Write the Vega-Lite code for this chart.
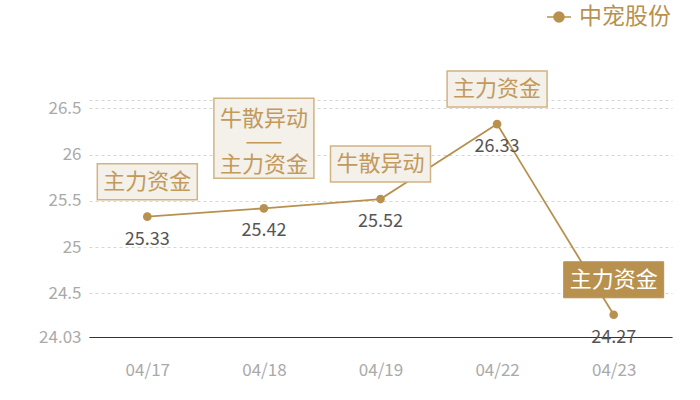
{
  "$schema": "https://vega.github.io/schema/vega-lite/v6.json",
  "width": 583,
  "height": 237,
  "autosize": {"type": "none"},
  "padding": {"left": 89, "top": 100, "right": 28, "bottom": 63},
  "background": "#ffffff",
  "config": {
    "font": "Noto Sans CJK SC",
    "view": {"stroke": null}
  },
  "data": {
    "values": [
      {"date": "04/17", "close": 25.33, "tag": "主力资金"},
      {"date": "04/18", "close": 25.42, "tag": "牛散异动\n——\n主力资金"},
      {"date": "04/19", "close": 25.52, "tag": "牛散异动"},
      {"date": "04/22", "close": 26.33, "tag": "主力资金"},
      {"date": "04/23", "close": 24.27, "tag": "主力资金"}
    ]
  },
  "encoding": {
    "x": {
      "field": "date", "type": "ordinal", "sort": null,
      "scale": {"type": "point", "padding": 0.5},
      "axis": {
        "title": null, "labelAngle": 0, "ticks": false, "grid": false,
        "domain": true, "domainColor": "#333333", "domainWidth": 1.2,
        "labelColor": "#aaaaaa", "labelFontSize": 17, "labelPadding": 25,
        "labelFont": "Noto Sans CJK SC"
      }
    },
    "y": {
      "field": "close", "type": "quantitative",
      "scale": {"domain": [24.03, 26.59], "nice": false, "zero": false},
      "axis": {
        "title": null, "values": [24.03, 24.5, 25, 25.5, 26, 26.5, 26.59],
        "labelExpr": "datum.value > 26.55 ? '' : format(datum.value, '.4~g')",
        "ticks": false, "domain": false,
        "grid": true, "gridColor": "#d6d6d6", "gridDash": [3, 3], "gridWidth": 1,
        "labelColor": "#aaaaaa", "labelFontSize": 17, "labelPadding": 8,
        "labelFont": "Noto Sans CJK SC"
      }
    }
  },
  "layer": [
    {
      "mark": {"type": "line", "strokeWidth": 1.8, "point": {"filled": true, "size": 75, "opacity": 1}},
      "encoding": {
        "color": {
          "datum": "中宠股份",
          "scale": {"range": ["#b8914f"]},
          "legend": {
            "title": null, "orient": "none", "legendX": 457, "legendY": -96,
            "symbolType": "M-1,0L1,0M-0.42,0A0.42,0.42,0,1,0,0.42,0A0.42,0.42,0,1,0,-0.42,0Z",
            "symbolSize": 576, "symbolStrokeWidth": 1.5,
            "symbolFillColor": "#b8914f", "symbolStrokeColor": "#b8914f",
            "labelFontSize": 23, "labelColor": "#b8914f", "labelFont": "Noto Sans CJK SC",
            "labelOffset": 7, "labelLimit": 200
          }
        }
      }
    },
    {
      "mark": {"type": "text", "dy": 23, "fontSize": 18, "color": "#555555", "baseline": "middle"},
      "encoding": {"text": {"field": "close", "type": "quantitative", "format": ".2f"}}
    },
    {
      "transform": [{"filter": "indexof(datum.tag, '\\n') < 0 && datum.date != '04/23'"}],
      "mark": {
        "type": "point", "shape": "M-1,-0.36L1,-0.36L1,0.36L-1,0.36Z", "size": 10000,
        "filled": true, "fill": "#f4f0ea", "stroke": "#d2b383", "strokeWidth": 1.5,
        "opacity": 1, "yOffset": -35
      }
    },
    {
      "transform": [{"filter": "indexof(datum.tag, '\\n') >= 0"}],
      "mark": {
        "type": "point", "shape": "M-1,-0.8L1,-0.8L1,0.8L-1,0.8Z", "size": 10000,
        "filled": true, "fill": "#f4f0ea", "stroke": "#d2b383", "strokeWidth": 1.5,
        "opacity": 1, "yOffset": -70
      }
    },
    {
      "transform": [{"filter": "datum.date == '04/23'"}],
      "mark": {
        "type": "point", "shape": "M-1,-0.36L1,-0.36L1,0.36L-1,0.36Z", "size": 10000,
        "filled": true, "fill": "#b8914f", "stroke": "#b8914f", "strokeWidth": 1,
        "opacity": 1, "yOffset": -35
      }
    },
    {
      "transform": [{"filter": "indexof(datum.tag, '\\n') < 0 && datum.date != '04/23'"}],
      "mark": {"type": "text", "fontSize": 22, "color": "#c29a5b", "baseline": "middle", "yOffset": -35},
      "encoding": {"text": {"field": "tag"}}
    },
    {
      "transform": [{"filter": "indexof(datum.tag, '\\n') >= 0"}],
      "mark": {"type": "text", "fontSize": 22, "color": "#c29a5b", "baseline": "middle", "yOffset": -89, "lineBreak": "\n", "lineHeight": 23},
      "encoding": {"text": {"field": "tag"}}
    },
    {
      "transform": [{"filter": "datum.date == '04/23'"}],
      "mark": {"type": "text", "fontSize": 22, "color": "#ffffff", "baseline": "middle", "yOffset": -35},
      "encoding": {"text": {"field": "tag"}}
    }
  ]
}
